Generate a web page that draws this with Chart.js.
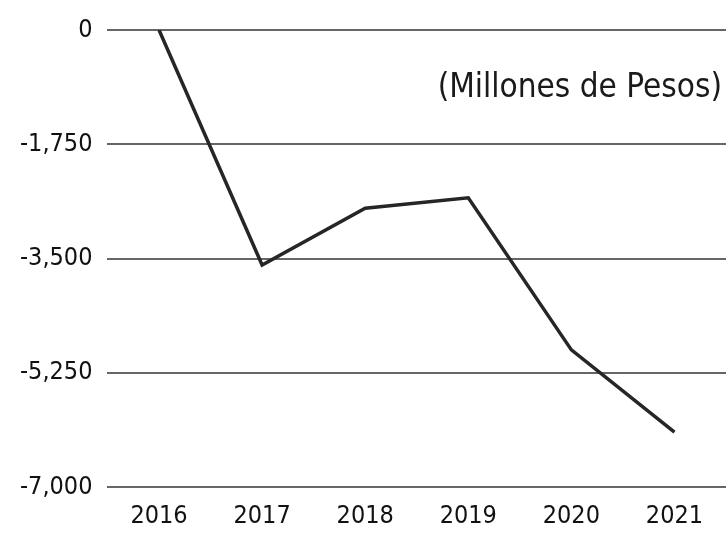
<!DOCTYPE html>
<html>
<head>
<meta charset="utf-8">
<script src="https://cdn.jsdelivr.net/npm/chart.js@4"></script>
<style>
  html, body { margin: 0; padding: 0; background: #fff; }
  #wrap { width: 726px; height: 537px; }
</style>
</head>
<body>
<div id="wrap"><canvas id="lineChart"></canvas></div>
<script>
// data (millones de pesos)
const years  = ["2016", "2017", "2018", "2019", "2020", "2021"];
const values = [0, -3600, -2730, -2570, -4900, -6160];
const yTicks = [0, -1750, -3500, -5250, -7000];
const unitLabel = "(Millones de Pesos)";

const FONT = "'DejaVu Sans Condensed', 'Liberation Sans Narrow', sans-serif";

// caption drawn inside the plot area, top right
const captionPlugin = {
  id: "caption",
  afterDraw(chart) {
    const { ctx, chartArea } = chart;
    ctx.save();
    ctx.font = "33px " + FONT;
    ctx.fillStyle = "#1a1a1a";
    ctx.textAlign = "right";
    ctx.textBaseline = "middle";
    ctx.fillText(unitLabel, chartArea.right - 4, chartArea.top + 58);
    ctx.restore();
  }
};

new Chart(document.getElementById("lineChart"), {
  type: "line",
  data: {
    labels: years,
    datasets: [{
      data: values,
      borderColor: "#262626",
      borderWidth: 3.5,
      pointRadius: 0,
      tension: 0,
      fill: false
    }]
  },
  options: {
    responsive: true,
    maintainAspectRatio: false,
    animation: false,
    layout: { padding: { top: 12, right: 0, bottom: 0, left: 5 } },
    plugins: { legend: { display: false }, tooltip: { enabled: false } },
    scales: {
      x: {
        offset: true,
        grid: { display: false },
        border: { display: false },
        ticks: { color: "#111", font: { family: FONT, size: 25 }, padding: 6, maxRotation: 0 }
      },
      y: {
        min: -7000,
        max: 0,
        afterBuildTicks: axis => { axis.ticks = yTicks.map(v => ({ value: v })); },
        grid: { color: "#666", lineWidth: 2, drawTicks: false },
        border: { display: false },
        ticks: {
          color: "#111",
          font: { family: FONT, size: 25 },
          padding: 15,
          callback: v => Number(v).toLocaleString("en-US")
        }
      }
    }
  },
  plugins: [captionPlugin]
});
</script>
</body>
</html>
